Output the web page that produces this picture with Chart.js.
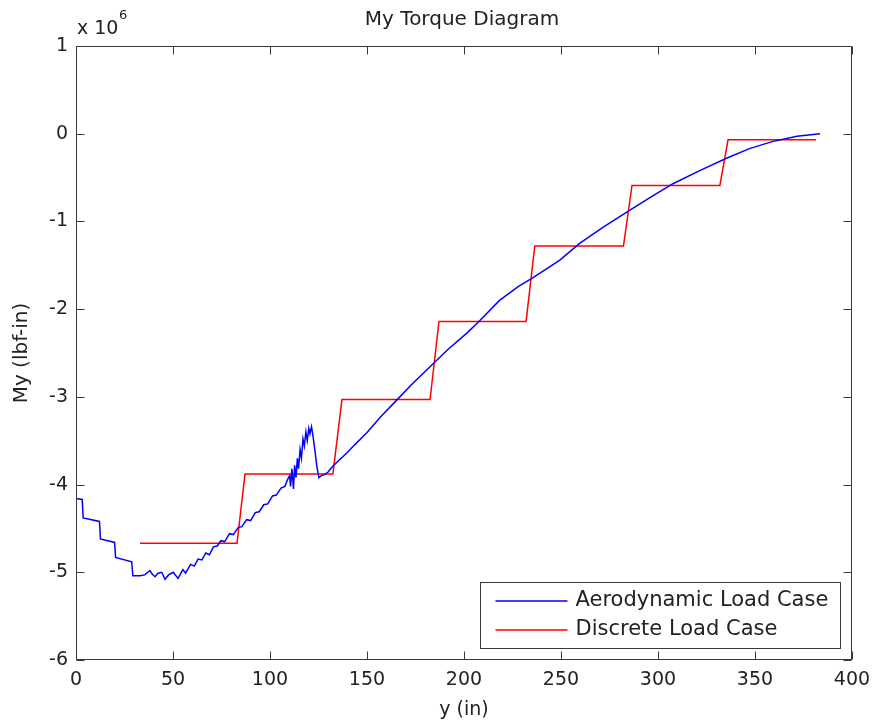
<!DOCTYPE html>
<html>
<head>
<meta charset="utf-8">
<script src="https://cdn.jsdelivr.net/npm/chart.js@4.4.1/dist/chart.umd.min.js"></script>
<style>
  html, body { margin: 0; padding: 0; background: #fff; }
  #wrap { width: 875px; height: 725px; }
</style>
</head>
<body>
<div id="wrap"><canvas id="torqueChart"></canvas></div>
<script>
// valores en unidades de 1e6 lbf-in
const aeroY_in = [0, 3.2, 3.7, 12.1, 12.6, 19.9, 20.4, 28.7, 29.3, 33.0, 35.4, 38.1, 39.3, 40.7, 42.3, 44.2, 45.9, 47.7, 50.1, 52.6,
  55.1, 56.5, 59, 61, 62.9, 64.9, 66.9, 68.8, 70.8, 72.8, 74.7, 76.7, 79.1, 81.1, 83.6, 85.5, 88, 90, 92.4, 94.4, 96.8, 98.8,
  101.3, 103.2, 105.7, 107.7, 109.1, 110.1, 110.6, 111.3, 112.1, 112.7, 113.4, 114.1, 114.7, 115.5, 116.2, 117, 117.7, 118.5,
  119.2, 120, 120.6, 121.4, 122.2, 123.2, 124.2, 125.2, 126.3, 127.8, 129.8, 132.4, 135.7, 139.6, 143.5, 149.9, 157.3, 165.2,
  173, 181.4, 191.7, 201.6, 208.2, 218.3, 228.1, 235.6, 249.4, 259.6, 271.4, 284.1, 295, 307.7, 321.5, 335.3, 347.1, 358.9,
  371.6, 383.5];
const aeroMy = [-4.16, -4.17, -4.38, -4.42, -4.62, -4.66, -4.83, -4.88, -5.04, -5.04, -5.03, -4.98, -5.02, -5.05, -5.01, -5.00,
  -5.08, -5.03, -5.00, -5.07, -4.97, -5.01, -4.91, -4.93, -4.85, -4.86, -4.78, -4.80, -4.71, -4.70, -4.64, -4.65, -4.56, -4.57,
  -4.49, -4.48, -4.40, -4.41, -4.32, -4.31, -4.23, -4.22, -4.13, -4.12, -4.04, -4.02, -3.94, -3.90, -4.02, -3.82, -4.05, -3.78,
  -3.92, -3.70, -3.82, -3.60, -3.70, -3.48, -3.56, -3.40, -3.50, -3.36, -3.42, -3.34, -3.45, -3.62, -3.80, -3.92, -3.90, -3.89,
  -3.86, -3.79, -3.72, -3.64, -3.55, -3.41, -3.22, -3.04, -2.86, -2.68, -2.46, -2.27, -2.13, -1.90, -1.74, -1.64, -1.44, -1.25,
  -1.07, -0.89, -0.74, -0.57, -0.42, -0.28, -0.17, -0.09, -0.03, 0.0];

const discY_in = [33.0, 83.0, 87.1, 132.4, 137.1, 182.5, 187.1, 232, 236.5, 282.2, 286.6, 331.9, 336.1, 381.4];
const discMy = [-4.67, -4.67, -3.88, -3.88, -3.03, -3.03, -2.14, -2.14, -1.28, -1.28, -0.59, -0.59, -0.07, -0.07];

const xTicks = [0, 50, 100, 150, 200, 250, 300, 350, 400];
const yTicks = [-6, -5, -4, -3, -2, -1, 0, 1];

const FONT = "'DejaVu Sans', sans-serif";
const AXIS_COLOR = "#3a3a3a";

function toPoints(xs, ys) {
  return xs.map((x, i) => ({ x: x, y: ys[i] }));
}

// marco estilo matlab: caja, ticks hacia adentro, leyenda, titulo y exponente
const matlabFrame = {
  id: "matlabFrame",
  afterDraw(chart) {
    const { ctx, chartArea: a, scales: { x, y } } = chart;
    const L = Math.round(a.left) + 0.5, R = Math.round(a.right) - 0.5;
    const T = Math.round(a.top) + 0.5, B = Math.round(a.bottom) - 0.5;
    const tl = 8;
    ctx.save();
    ctx.strokeStyle = AXIS_COLOR;
    ctx.lineWidth = 1;
    ctx.strokeRect(L, T, R - L, B - T);

    ctx.beginPath();
    xTicks.forEach(v => {
      const px = Math.round(x.getPixelForValue(v)) + 0.5;
      ctx.moveTo(px, B); ctx.lineTo(px, B - tl);
      ctx.moveTo(px, T); ctx.lineTo(px, T + tl);
    });
    yTicks.forEach(v => {
      const py = Math.round(y.getPixelForValue(v)) + 0.5;
      ctx.moveTo(L, py); ctx.lineTo(L + tl, py);
      ctx.moveTo(R, py); ctx.lineTo(R - tl, py);
    });
    ctx.stroke();

    // leyenda abajo a la derecha
    const bx = Math.round(a.right) - 371.5, by = Math.round(a.bottom) - 77.5, bw = 360, bh = 66;
    ctx.fillStyle = "#fff";
    ctx.fillRect(bx, by, bw, bh);
    ctx.strokeRect(bx, by, bw, bh);
    ctx.font = "21px " + FONT;
    ctx.textBaseline = "middle";
    chart.data.datasets.forEach((ds, i) => {
      const ly = by + 18.5 + i * 29;
      ctx.strokeStyle = ds.borderColor;
      ctx.lineWidth = 1.5;
      ctx.beginPath();
      ctx.moveTo(bx + 15, ly); ctx.lineTo(bx + 87, ly);
      ctx.stroke();
      ctx.fillStyle = "#222";
      ctx.fillText(ds.label, bx + 95, ly);
    });

    // titulo
    ctx.fillStyle = "#222";
    ctx.textAlign = "center";
    ctx.font = "20px " + FONT;
    ctx.fillText("My Torque Diagram", (a.left + a.right) / 2 - 2, 20);

    // exponente x 10^6
    ctx.textAlign = "left";
    ctx.font = "19px " + FONT;
    ctx.fillText("x 10", 77, 29);
    ctx.font = "13px " + FONT;
    ctx.fillText("6", 119, 16);
    ctx.restore();
  }
};

new Chart(document.getElementById("torqueChart"), {
  type: "scatter",
  data: {
    datasets: [
      {
        label: "Aerodynamic Load Case",
        data: toPoints(aeroY_in, aeroMy),
        showLine: true,
        borderColor: "#0000ff",
        borderWidth: 1.5,
        pointRadius: 0,
        tension: 0
      },
      {
        label: "Discrete Load Case",
        data: toPoints(discY_in, discMy),
        showLine: true,
        borderColor: "#ff0000",
        borderWidth: 1.5,
        pointRadius: 0,
        tension: 0
      }
    ]
  },
  options: {
    responsive: true,
    maintainAspectRatio: false,
    animation: false,
    layout: { padding: { top: 46, right: 23, left: 0, bottom: 0 } },
    plugins: {
      legend: { display: false },
      tooltip: { enabled: false }
    },
    scales: {
      x: {
        type: "linear",
        min: 0,
        max: 400,
        afterFit: s => { s.height = 65; s.paddingLeft = 0; s.paddingRight = 0; },
        afterBuildTicks: s => { s.ticks = xTicks.map(v => ({ value: v })); },
        grid: { display: false, drawTicks: false },
        border: { display: false },
        ticks: { autoSkip: false, maxRotation: 0, padding: 9, color: "#222", font: { family: FONT, size: 19 } },
        title: { display: true, text: "y (in)", color: "#222", font: { family: FONT, size: 19 }, padding: { bottom: 4 } }
      },
      y: {
        type: "linear",
        min: -6,
        max: 1,
        afterFit: s => { s.width = 76; s.paddingTop = 0; s.paddingBottom = 0; },
        afterBuildTicks: s => { s.ticks = yTicks.map(v => ({ value: v })); },
        grid: { display: false, drawTicks: false },
        border: { display: false },
        ticks: { autoSkip: false, padding: 8, color: "#222", font: { family: FONT, size: 19 } },
        title: { display: true, text: "My (lbf-in)", color: "#222", font: { family: FONT, size: 20 }, padding: { top: 10 } }
      }
    }
  },
  plugins: [matlabFrame]
});
</script>
</body>
</html>
